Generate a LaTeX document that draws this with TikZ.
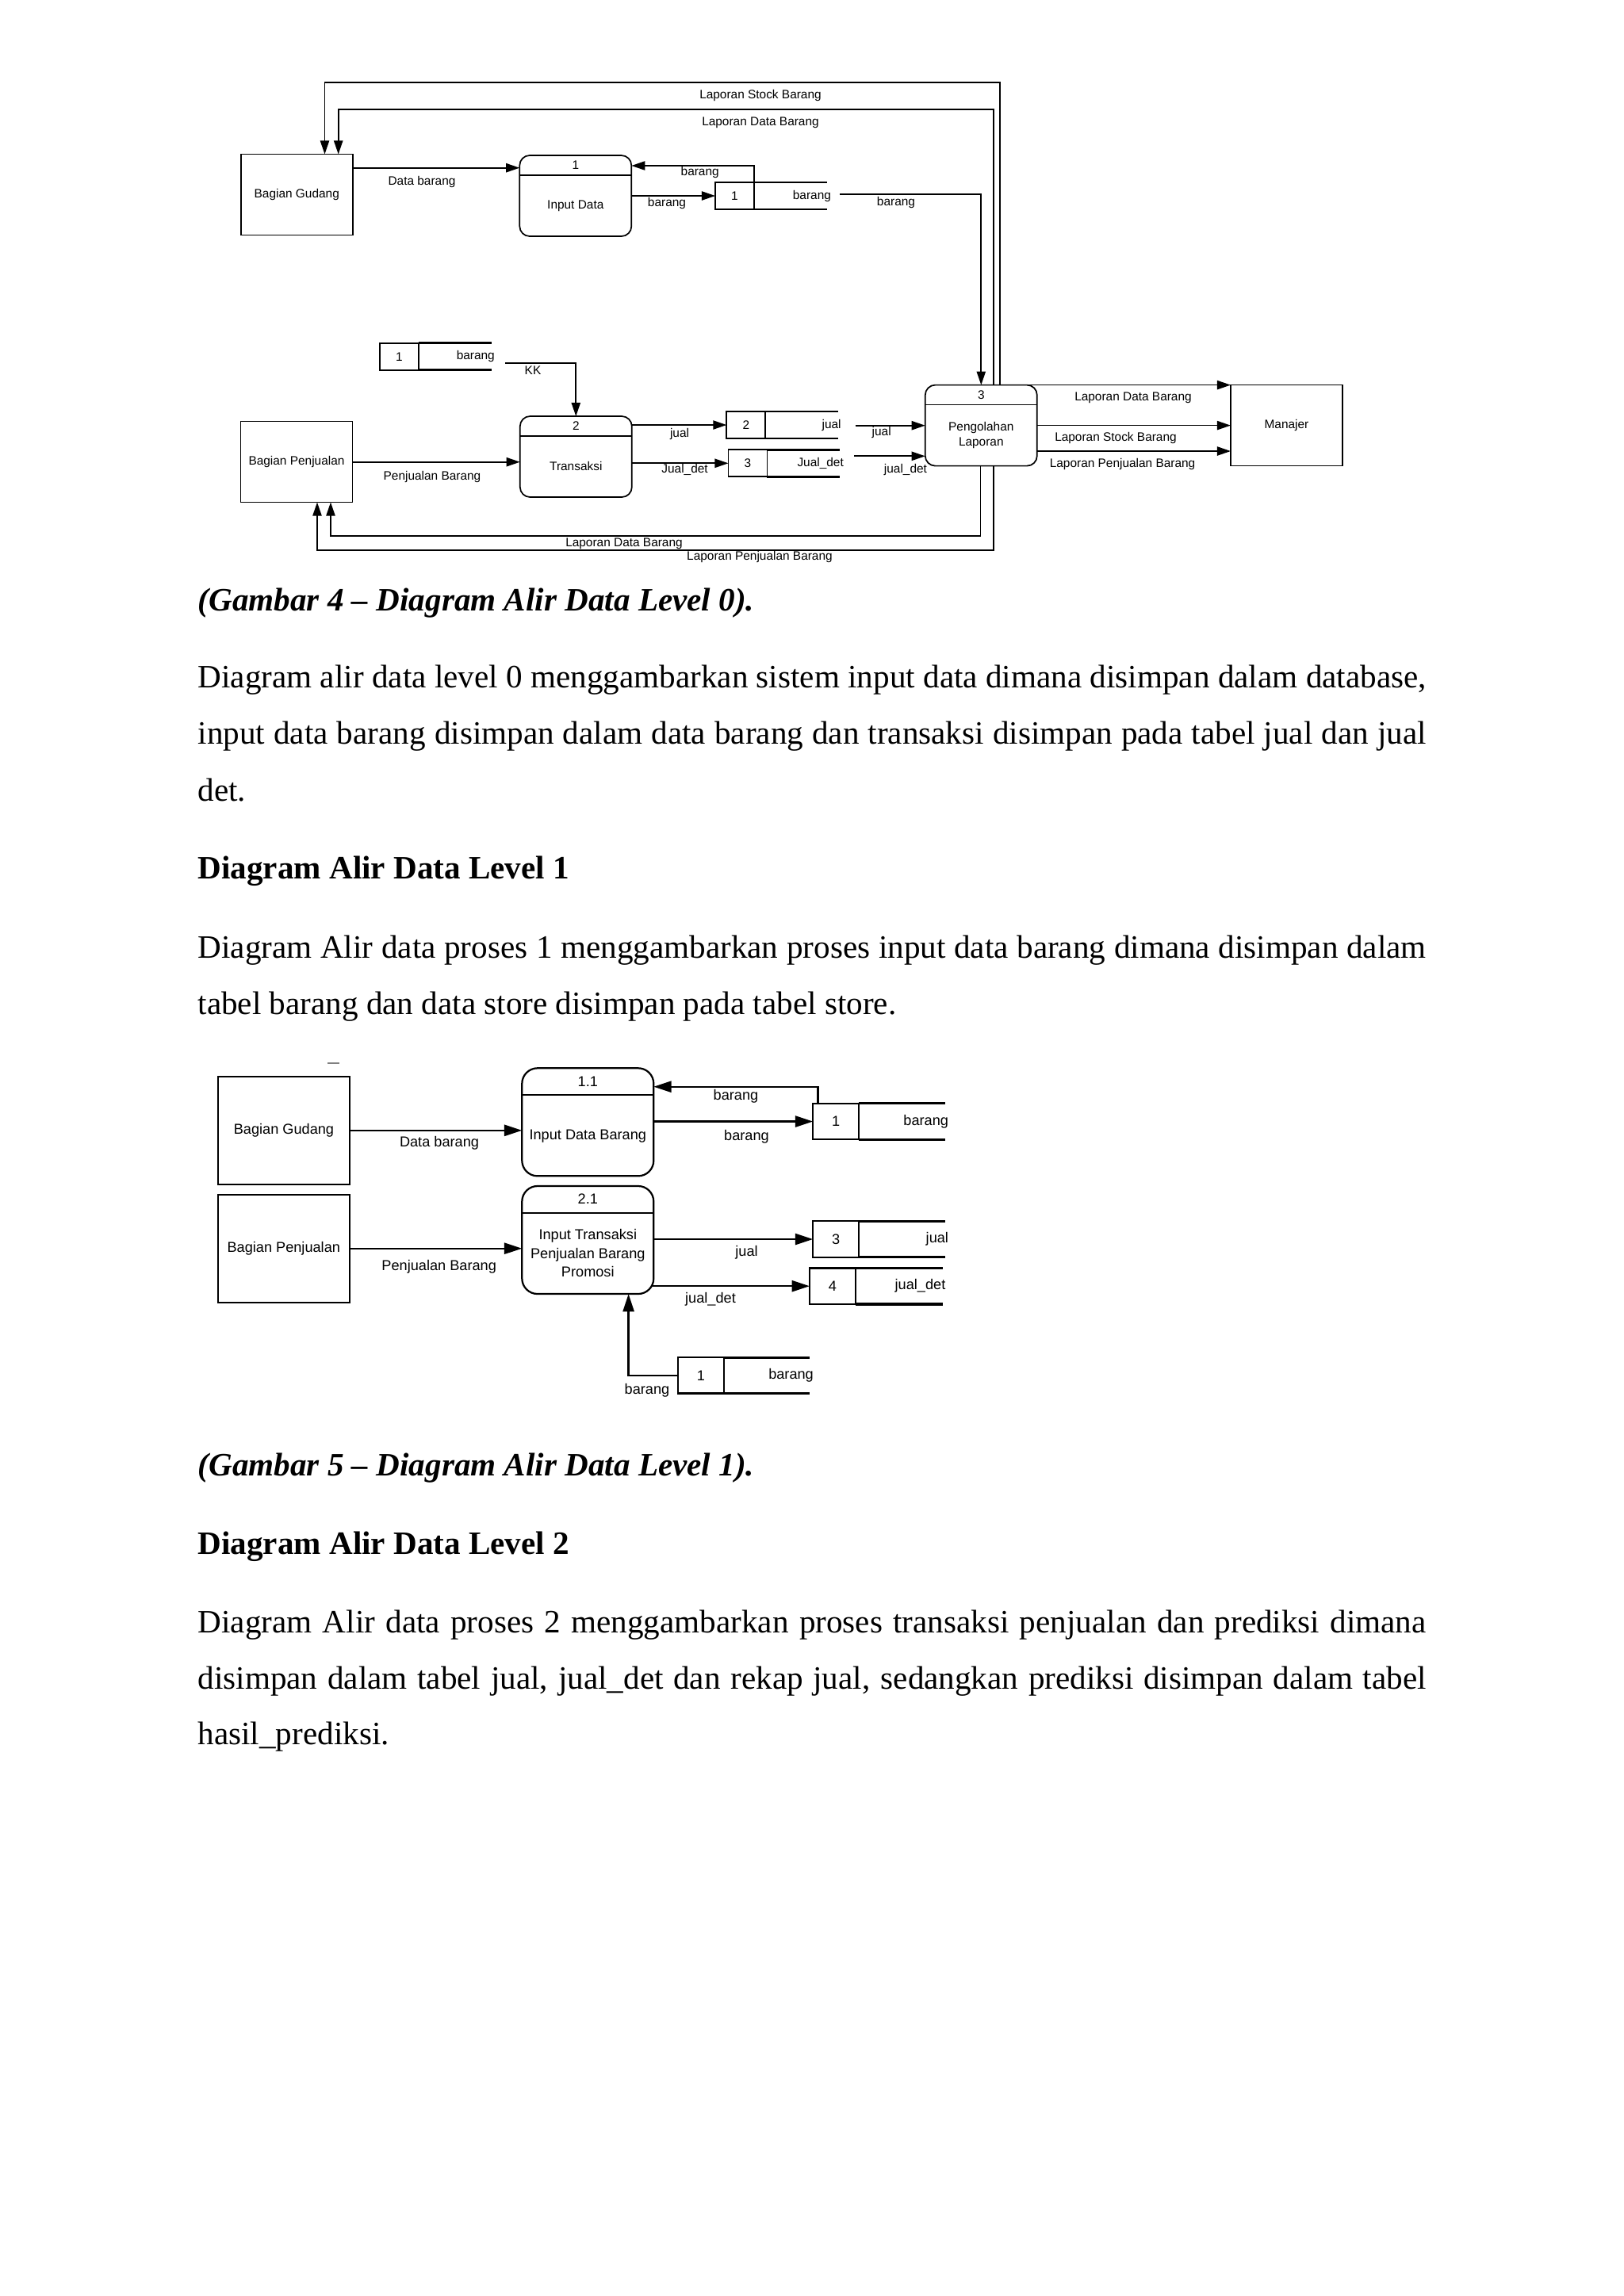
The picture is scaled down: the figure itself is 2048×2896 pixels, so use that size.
\documentclass[tikz,border=0pt]{standalone}
\usepackage{fontspec}
\setmainfont{Liberation Serif}
\newfontfamily\dfdfont{Liberation Sans}
\usetikzlibrary{arrows.meta}

\tikzset{
  dfdA/.style={font=\dfdfont\fontsize{4.5}{5.5}\selectfont},
  dfdB/.style={font=\dfdfont\fontsize{5.3}{6.9}\selectfont},
  entA/.style={draw, dfdA, line width=0.5pt, inner sep=0pt, outer sep=0pt,
    minimum width=14.46mm, minimum height=10.46mm},
  procA/.style={entA, rounded corners=1.3mm},
  idA/.style={draw, dfdA, line width=0.5pt, inner sep=0pt, outer sep=0pt,
    minimum width=5.02mm, minimum height=3.49mm},
  flowA/.style={line width=0.5pt, -{Triangle[length=1.75mm, width=1.15mm]}},
  lblA/.style={dfdA, inner sep=0pt},
  entB/.style={draw, dfdB, line width=0.65pt, inner sep=0pt, outer sep=0pt,
    minimum width=17.02mm, minimum height=13.95mm},
  procB/.style={entB, rounded corners=2mm},
  idB/.style={draw, dfdB, line width=0.65pt, inner sep=0pt, outer sep=0pt,
    minimum width=5.95mm, minimum height=4.67mm},
  flowB/.style={line width=0.65pt, -{Triangle[length=2.3mm, width=1.45mm]}},
  lblB/.style={dfdB, inner sep=0pt},
  body/.style={inner sep=0pt, anchor=base west, font=\fontsize{12}{14}\selectfont},
}

\begin{document}
\begin{tikzpicture}[x=0.102539mm, y=-0.102539mm]
  \useasboundingbox (0,0) rectangle (2048,2896);
  \fill[white] (0,0) rectangle (2048,2896);

  % Gambar 4 (level 0)
  \node[entA] (gudang) at (374.3,245.5) {Bagian Gudang};
  \node[entA] (penjualan) at (374,582.5) {Bagian Penjualan};
  \node[entA] (manajer) at (1622.5,536.6) {Manajer};
  \node[procA] (inputdata) at (725.8,247) {};
  \node[procA] (transaksi) at (726.3,576) {};
  \node[procA] (pengolahan) at (1237.3,536.6) {};
  \foreach \p in {inputdata,transaksi,pengolahan}
    \draw[line width=0.5pt] ([yshift=-2.56mm]\p.north west) -- ([yshift=-2.56mm]\p.north east);
  \node[lblA] (inputdataNo) at ([yshift=-1.25mm]inputdata.north) {1};
  \node[lblA] (transaksiNo) at ([yshift=-1.25mm]transaksi.north) {2};
  \node[lblA] (pengolahanNo) at ([yshift=-1.25mm]pengolahan.north) {3};
  \node[lblA] (inputdataTxt) at ([yshift=-1.3mm]inputdata.center) {Input Data};
  \node[lblA] (transaksiTxt) at ([yshift=-1.25mm]transaksi.center) {Transaksi};
  \node[lblA, align=center] (pengolahanTxt) at ([yshift=-1.27mm]pengolahan.center) {Pengolahan\\Laporan};

  % data stores
  \node[idA] (sA) at (926.5,247) {1};
  \draw[line width=0.8pt] (sA.north east) -- ++(92,0);
  \draw[line width=0.8pt] (sA.south east) -- ++(92,0);
  \node[lblA, anchor=east] (sAname) at (1048.6,247) {barang};
  \node[idA] (sB) at (503.3,449.7) {1};
  \draw[line width=0.8pt] (sB.north east) -- ++(92.5,0);
  \draw[line width=0.8pt] (sB.south east) -- ++(92.5,0);
  \node[lblA, anchor=east] (sBname) at (624.5,449.7) {barang};
  \node[idA] (sC) at (940.8,536) {2};
  \draw[line width=0.8pt] (sC.north east) -- ++(91.5,0);
  \draw[line width=0.8pt] (sC.south east) -- ++(91.5,0);
  \node[lblA, anchor=east] (sCname) at (1061.3,536) {jual};
  \node[idA] (sD) at (943,584.3) {3};
  \draw[line width=0.8pt] (sD.north east) -- ++(92,0);
  \draw[line width=0.8pt] (sD.south east) -- ++(92,0);
  \node[lblA, anchor=east] (sDname) at (1064.5,584.3) {Jual\_det};

  \coordinate (sAout) at (1059.4,245);
  \coordinate (sBout) at (637,457.7);
  \coordinate (sCout) at (1078.5,536.7);
  \coordinate (sDout) at (1077,575.3);

  % flows
  \draw[flowA] (gudang.east |- 0,211.7) -- (inputdata.west |- 0,211.7);
  \draw[flowA] (sA.north east) |- (inputdata.east |- 0,209);
  \draw[flowA] (inputdata.east |- sA.west) -- (sA.west);
  \draw[flowA] (sAout) -| (pengolahan.north);
  \draw[flowA] (pengolahan.north -| 1261,0) |- (409.5,104) -- (gudang.north -| 409.5,0);
  \draw[flowA] (pengolahan.north -| 1253,0) |- (426.7,137.7) -- (gudang.north -| 426.7,0);
  \draw[flowA] (sBout) -| (transaksi.north);
  \draw[flowA] (penjualan.east |- 0,582.7) -- (transaksi.west |- 0,582.7);
  \draw[flowA] (transaksi.east |- sC.west) -- (sC.west);
  \draw[flowA] (transaksi.east |- sD.west) -- (sD.west);
  \draw[flowA] (sCout) -- (pengolahan.west |- sCout);
  \draw[flowA] (sDout) -- (pengolahan.west |- sDout);
  \draw[flowA] (pengolahan.north -| 1289,0) -- (manajer.north west);
  \draw[flowA] (pengolahan.east |- manajer.west) -- (manajer.west);
  \draw[flowA] (pengolahan.east |- 0,569) -- (manajer.west |- 0,569);
  \draw[flowA] (pengolahan.south -| 1236.6,0) |- (417,676) -- (penjualan.south -| 417,0);
  \draw[flowA] (pengolahan.south -| 1253,0) |- (400,694) -- (penjualan.south -| 400,0);

  \node[lblA] (lStock) at (959,120.7) {Laporan Stock Barang};
  \node[lblA] (lDataTop) at (959,155) {Laporan Data Barang};
  \node[lblA] (lDataBrg) at (532,229) {Data barang};
  \node[lblA] (lBrgIn) at (882.7,217) {barang};
  \node[lblA] (lBrgOut) at (841,256.7) {barang};
  \node[lblA] (lBrgP3) at (1130,255.7) {barang};
  \node[lblA] (lKK) at (672,466.7) {KK};
  \node[lblA] (lPenjBrg) at (545,601.7) {Penjualan Barang};
  \node[lblA] (lJual) at (857,547.7) {jual};
  \node[lblA] (lJualDet) at (863.6,592.7) {Jual\_det};
  \node[lblA] (lJualP3) at (1111.7,545.3) {jual};
  \node[lblA] (lJualDetP3) at (1142,592.3) {jual\_det};
  \node[lblA] (lDataM) at (1429,501.7) {Laporan Data Barang};
  \node[lblA] (lStockM) at (1407,552) {Laporan Stock Barang};
  \node[lblA] (lPenjM) at (1415.6,585.7) {Laporan Penjualan Barang};
  \node[lblA] (lDataBot) at (787,685.7) {Laporan Data Barang};
  \node[lblA] (lPenjBot) at (958,702.7) {Laporan Penjualan Barang};

  % text
  \node[body] (cap4) at (249,770) {\bfseries\itshape (Gambar 4 – Diagram Alir Data Level 0).};
  \node[body] (par1a) at (249,867.3) {\makebox[158.83mm][s]{Diagram alir data level 0 menggambarkan sistem input data dimana disimpan dalam database,}};
  \node[body] (par1b) at (249,938.3) {\makebox[158.83mm][s]{input data barang disimpan dalam data barang dan transaksi disimpan pada tabel jual dan jual}};
  \node[body] (par1c) at (249,1010) {det.};
  \node[body] (head1) at (249,1108.3) {\bfseries Diagram Alir Data Level 1};
  \node[body] (par2a) at (249,1208.3) {\makebox[158.83mm][s]{Diagram Alir data proses 1 menggambarkan proses input data barang dimana disimpan dalam}};
  \node[body] (par2b) at (249,1279.3) {tabel barang dan data store disimpan pada tabel store.};

  % Gambar 5 (level 1)
  \draw[line width=0.6pt, gray] (413,1341) -- (428,1341);
  \node[entB] (gudangB) at (358,1425.8) {Bagian Gudang};
  \node[entB] (penjualanB) at (357.8,1574.7) {Bagian Penjualan};
  \node[procB] (inputbarang) at (741.3,1415.3) {};
  \node[procB] (inputtrans) at (741.3,1564) {};
  \foreach \p in {inputbarang,inputtrans}
    \draw[line width=0.65pt] ([yshift=-3.49mm]\p.north west) -- ([yshift=-3.49mm]\p.north east);
  \node[lblB] (inputbarangNo) at ([yshift=-1.7mm]inputbarang.north) {1.1};
  \node[lblB] (inputtransNo) at ([yshift=-1.7mm]inputtrans.north) {2.1};
  \node[lblB] (inputbarangTxt) at ([yshift=-1.85mm]inputbarang.center) {Input Data Barang};
  \node[lblB, align=center] (inputtransTxt) at ([yshift=-1.7mm]inputtrans.center) {Input Transaksi\\Penjualan Barang\\Promosi};

  \node[idB] (s1) at (1054.2,1414.5) {1};
  \draw[line width=0.9pt] (s1.north east) -- ++(108.4,0);
  \draw[line width=0.9pt] (s1.south east) -- ++(108.4,0);
  \node[lblB, anchor=east] (s1name) at (1196.7,1414.5) {barang};
  \node[idB] (s3) at (1054.2,1563) {3};
  \draw[line width=0.9pt] (s3.north east) -- ++(108.4,0);
  \draw[line width=0.9pt] (s3.south east) -- ++(108.4,0);
  \node[lblB, anchor=east] (s3name) at (1196.7,1563) {jual};
  \node[idB] (s4) at (1050,1622.2) {4};
  \draw[line width=0.9pt] (s4.north east) -- ++(109.7,0);
  \draw[line width=0.9pt] (s4.south east) -- ++(109.7,0);
  \node[lblB, anchor=east] (s4name) at (1193,1622.2) {jual\_det};
  \node[idB] (s1b) at (884,1734.8) {1};
  \draw[line width=0.9pt] (s1b.north east) -- ++(108,0);
  \draw[line width=0.9pt] (s1b.south east) -- ++(108,0);
  \node[lblB, anchor=east] (s1bname) at (1026.5,1734.8) {barang};

  \draw[flowB] (gudangB.east) -- (inputbarang.west |- gudangB.east);
  \draw[flowB] (penjualanB.east) -- (inputtrans.west |- penjualanB.east);
  \draw[flowB] ([xshift=0.65mm]s1.north west) |- (inputbarang.east |- 0,1370.7);
  \draw[flowB] (inputbarang.east |- s1.west) -- (s1.west);
  \draw[flowB] (inputtrans.east |- s3.west) -- (s3.west);
  \draw[flowB] ([xshift=-0.27mm]inputtrans.east |- s4.west) -- (s4.west);
  \draw[flowB] (s1b.west) -| (inputtrans.south -| 792.6,0);

  \node[lblB] (mDataBrg) at (554,1441.7) {Data barang};
  \node[lblB] (mPenjBrg) at (553.7,1597.3) {Penjualan Barang};
  \node[lblB] (mBrgIn) at (928,1382.3) {barang};
  \node[lblB] (mBrgOut) at (941.5,1433.3) {barang};
  \node[lblB] (mJual) at (941.5,1579.3) {jual};
  \node[lblB] (mJualDet) at (896,1639) {jual\_det};
  \node[lblB] (mBrgUp) at (816,1753.3) {barang};

  % text
  \node[body] (cap5) at (249,1861.7) {\bfseries\itshape (Gambar 5 – Diagram Alir Data Level 1).};
  \node[body] (head2) at (249,1960.7) {\bfseries Diagram Alir Data Level 2};
  \node[body] (par3a) at (249,2059.3) {\makebox[158.83mm][s]{Diagram Alir data proses 2 menggambarkan proses transaksi penjualan dan prediksi dimana}};
  \node[body] (par3b) at (249,2130) {\makebox[158.83mm][s]{disimpan dalam tabel jual, jual\_det dan rekap jual, sedangkan prediksi disimpan dalam tabel}};
  \node[body] (par3c) at (249,2200) {hasil\_prediksi.};
\end{tikzpicture}
\end{document}
